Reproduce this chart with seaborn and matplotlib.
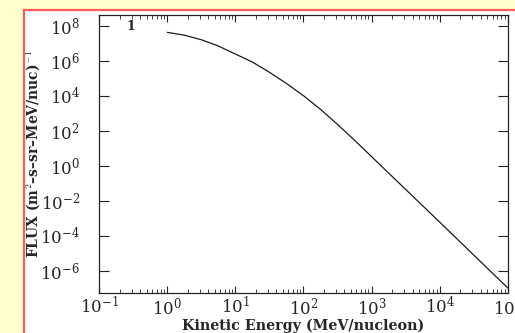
import matplotlib
matplotlib.use('Agg')
import matplotlib.pyplot as plt
import matplotlib.patches as patches
import seaborn as sns
import pandas as pd

# spectrum
energy = [1, 1.78, 3.16, 5.62, 10, 17.8, 31.6, 56.2, 100, 178, 316, 562,
          1000, 3160, 1e4, 3.16e4, 1e5]
flux = [4.17e7, 2.88e7, 1.58e7, 6.92e6, 2.40e6, 8.32e5, 2.19e5, 5.01e4, 1.0e4,
        1.66e3, 229, 28.8, 3.31, 4.47e-2, 6.03e-4, 7.94e-6, 1.05e-7]
ytick_vals = [1e-6, 1e-4, 1e-2, 1e0, 1e2, 1e4, 1e6, 1e8]

df = pd.DataFrame({'E': energy, 'F': flux})

sns.set_style('white')
plt.rcParams['font.family'] = ['DejaVu Serif']
plt.rcParams['mathtext.fontset'] = 'cm'

fig = plt.figure(figsize=(5.15, 3.33), dpi=100)
fig.patch.set_facecolor('#ffffcc')

# white panel with red frame, kept behind the axes
frame = patches.Rectangle((23.5 / 515, -0.2), 1.2, 0.2 + 1 - 10 / 333,
                          transform=fig.transFigure, facecolor='white',
                          edgecolor='#ff5a5a', linewidth=1.6, zorder=-10)
fig.patches.append(frame)

ax = fig.add_axes([99.3 / 515, 1 - 293.3 / 333, 408.4 / 515, 278.6 / 333])
ax.set_facecolor('white')

sns.lineplot(data=df, x='E', y='F', ax=ax, color='#1a1a1a', linewidth=0.9)

ax.set_xscale('log')
ax.set_yscale('log')
ax.set_xlim(1e-1, 1e5)
ax.set_ylim(10 ** -7.29, 10 ** 8.63)
ax.set_yticks(ytick_vals)
ax.yaxis.set_minor_locator(matplotlib.ticker.NullLocator())
ax.xaxis.set_minor_locator(matplotlib.ticker.LogLocator(base=10, subs=range(2, 10), numticks=20))

for s in ax.spines.values():
    s.set_color('#222222')
    s.set_linewidth(0.9)

ax.tick_params(axis='x', which='major', direction='in', length=5, width=0.8,
               top=True, bottom=True, labelsize=12, pad=2, color='#222222')
ax.tick_params(axis='x', which='minor', direction='in', length=2.8, width=0.6,
               top=True, bottom=True, color='#222222')
ax.tick_params(axis='y', which='major', direction='in', length=7, width=0.8,
               left=True, right=True, labelsize=12, pad=14, color='#222222')

ax.set_xlabel('Kinetic Energy (MeV/nucleon)', fontsize=10.3, fontweight='bold')
ax.set_ylabel('FLUX (m$^\\mathbf{2}$–s–sr–MeV/nuc)$^\\mathbf{-1}$', fontsize=10,
              fontweight='bold')
ax.xaxis.set_label_coords(0.5, -0.092)
ax.yaxis.set_label_coords(-0.140, 0.5)

ax.text(0.078, 0.959, '1', transform=ax.transAxes, fontsize=9,
        fontweight='bold', ha='center', va='center')

plt.savefig('out.png', dpi=100, facecolor=fig.get_facecolor())
